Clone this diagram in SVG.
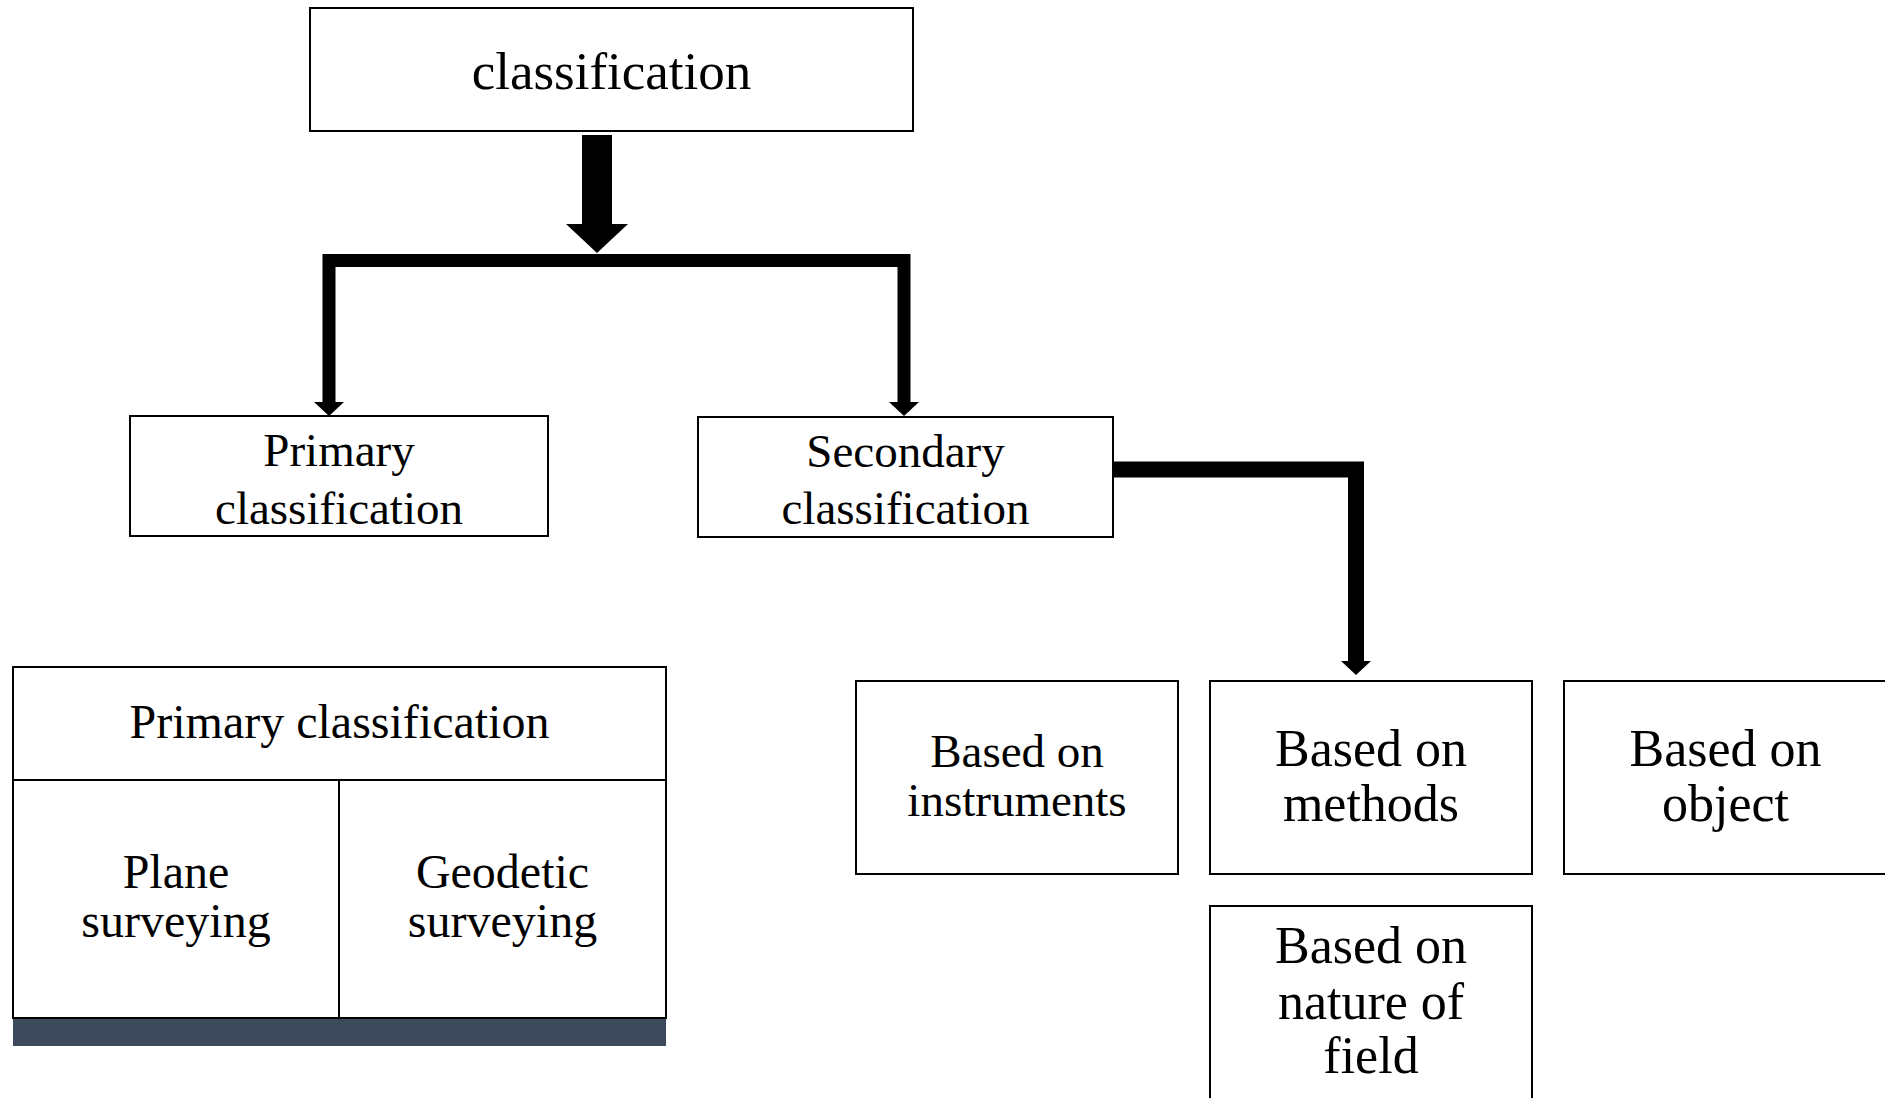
<svg xmlns="http://www.w3.org/2000/svg" width="1885" height="1098" viewBox="0 0 1885 1098">
<style>
.box{fill:#fff;stroke:#000;stroke-width:2}
.t{font-family:"Liberation Serif","Times New Roman",serif;fill:#000;text-anchor:middle}
.conn{fill:none;stroke:#000;stroke-linejoin:miter;stroke-linecap:butt}
</style>
<defs>
<marker id="head" viewBox="0 -16 16 32" refX="0" refY="0" markerWidth="16" markerHeight="32" markerUnits="userSpaceOnUse" orient="auto-start-reverse" overflow="visible">
<path d="M0,-15 L14,0 L0,15 z" fill="#000"/>
</marker>
</defs>
<rect width="1885" height="1098" fill="#fff"/>
<g id="connectors">
<polygon points="582,135 612,135 612,224 628,224 597,253 566,224 582,224" fill="#000"/>
<path class="conn" d="M329,402 V260.5 H904 V402" stroke-width="13" marker-start="url(#head)" marker-end="url(#head)"/>
<path class="conn" d="M1113,469.5 H1356 V661" stroke-width="16" marker-end="url(#head)"/>
</g>
<g id="node-classification">
<rect class="box" x="310" y="8" width="603" height="123"/>
<text class="t" x="611.5" y="89" font-size="53">classification</text>
</g>
<g id="node-primary">
<rect class="box" x="130" y="416" width="418" height="120"/>
<text class="t" x="339" y="466" font-size="47">Primary</text>
<text class="t" x="339" y="524" font-size="47">classification</text>
</g>
<g id="node-secondary">
<rect class="box" x="698" y="417" width="415" height="120"/>
<text class="t" x="905.5" y="467" font-size="47">Secondary</text>
<text class="t" x="905.5" y="524" font-size="47">classification</text>
</g>
<g id="node-instruments">
<rect class="box" x="856" y="681" width="322" height="193"/>
<text class="t" x="1017" y="767" font-size="47">Based on</text>
<text class="t" x="1017" y="816" font-size="47">instruments</text>
</g>
<g id="node-methods">
<rect class="box" x="1210" y="681" width="322" height="193"/>
<text class="t" x="1371" y="766" font-size="52">Based on</text>
<text class="t" x="1371" y="821" font-size="52">methods</text>
</g>
<g id="node-object">
<rect class="box" x="1564" y="681" width="340" height="193"/>
<text class="t" x="1725.5" y="766" font-size="52">Based on</text>
<text class="t" x="1725.5" y="821" font-size="52">object</text>
</g>
<g id="node-field">
<rect class="box" x="1210" y="906" width="322" height="220"/>
<text class="t" x="1371" y="963" font-size="52">Based on</text>
<text class="t" x="1371" y="1019" font-size="52">nature of</text>
<text class="t" x="1371" y="1073" font-size="52">field</text>
</g>
<g id="node-primary-table">
<rect x="13" y="1018" width="653" height="28" fill="#3c4a5c"/>
<rect class="box" x="13" y="667" width="653" height="351"/>
<line x1="13" y1="780" x2="666" y2="780" stroke="#000" stroke-width="2"/>
<line x1="339" y1="780" x2="339" y2="1018" stroke="#000" stroke-width="2"/>
<text class="t" x="339.5" y="738" font-size="48">Primary classification</text>
<text class="t" x="176" y="888" font-size="48">Plane</text>
<text class="t" x="176" y="937" font-size="48">surveying</text>
<text class="t" x="502.5" y="888" font-size="48">Geodetic</text>
<text class="t" x="502.5" y="937" font-size="48">surveying</text>
</g>
</svg>
